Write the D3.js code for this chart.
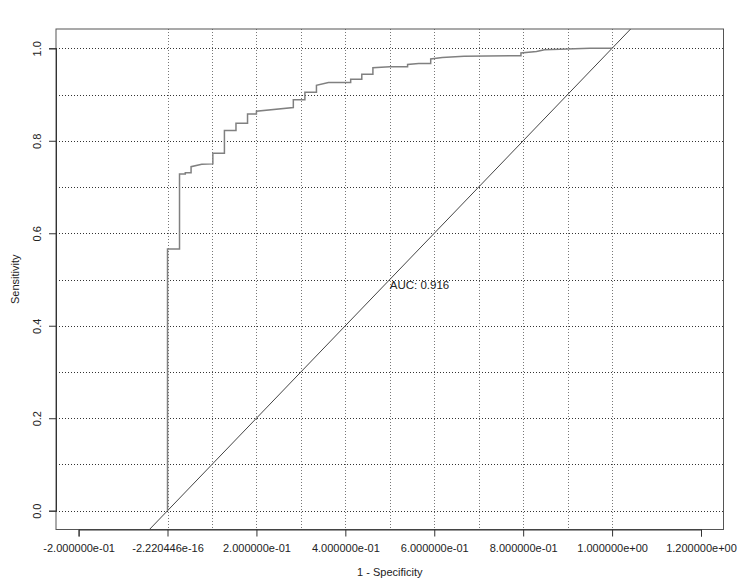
<!DOCTYPE html>
<html>
<head>
<meta charset="utf-8">
<script src="https://cdn.jsdelivr.net/npm/d3@7"></script>
<style>
  html, body { margin: 0; padding: 0; background: #fff; }
  text { font-family: "Liberation Sans", Arial, Helvetica, sans-serif; fill: #222; }
</style>
</head>
<body>
<svg id="chart" width="750" height="586"></svg>
<script>
// ---- data ----
const fpr = [0, 0, 0.027, 0.027, 0.040, 0.040, 0.053, 0.053, 0.077, 0.102, 0.102, 0.128, 0.128,
  0.154, 0.154, 0.180, 0.180, 0.200, 0.200, 0.283, 0.283, 0.309, 0.309, 0.335, 0.335, 0.362,
  0.412, 0.412, 0.437, 0.437, 0.462, 0.462, 0.500, 0.540, 0.540, 0.565, 0.592, 0.592, 0.618,
  0.667, 0.795, 0.795, 0.830, 0.848, 0.950, 1.0];
const sensitivity = [0, 0.566, 0.566, 0.728, 0.728, 0.731, 0.731, 0.744, 0.749, 0.750, 0.773, 0.773, 0.822,
  0.822, 0.838, 0.838, 0.858, 0.858, 0.864, 0.872, 0.889, 0.889, 0.905, 0.905, 0.920, 0.926,
  0.926, 0.933, 0.933, 0.944, 0.944, 0.958, 0.960, 0.960, 0.965, 0.967, 0.967, 0.977, 0.980,
  0.983, 0.984, 0.990, 0.993, 0.997, 1.0, 1.0];
const xTicks = [-0.2, 0, 0.2, 0.4, 0.6, 0.8, 1.0, 1.2];
const xTickLabels = ["-2.000000e-01", "-2.220446e-16", "2.000000e-01", "4.000000e-01",
  "6.000000e-01", "8.000000e-01", "1.000000e+00", "1.200000e+00"];
const yTicks = [0, 0.2, 0.4, 0.6, 0.8, 1.0];
const yTickLabels = ["0.0", "0.2", "0.4", "0.6", "0.8", "1.0"];
const gridValues = [0, 0.1, 0.2, 0.3, 0.4, 0.5, 0.6, 0.7, 0.8, 0.9, 1.0];
const aucLabel = "AUC: 0.916";
const aucPos = [0.5, 0.5];
const xTitle = "1 - Specificity";
const yTitle = "Sensitivity";

// ---- layout ----
const box = { left: 56, top: 29, right: 723.5, bottom: 529.5 };
const x = d3.scaleLinear().domain([-0.2, 1.2]).range([78.6, 701]);
const y = d3.scaleLinear().domain([0, 1]).range([510.7, 48.3]);

const svg = d3.select("#chart");

svg.append("defs").append("clipPath").attr("id", "plotclip")
  .append("rect")
  .attr("x", box.left).attr("y", box.top)
  .attr("width", box.right - box.left).attr("height", box.bottom - box.top);

// grid
const grid = svg.append("g");
grid.selectAll("line.h").data(gridValues).join("line")
  .attr("class", "h")
  .attr("x1", box.left).attr("x2", box.right)
  .attr("y1", d => Math.round(y(d)) + 0.5).attr("y2", d => Math.round(y(d)) + 0.5)
  .attr("stroke", "#333").attr("stroke-width", 1).attr("stroke-dasharray", "1,2");
grid.selectAll("line.v").data(gridValues).join("line")
  .attr("class", "v")
  .attr("x1", d => Math.round(x(d)) + 0.5).attr("x2", d => Math.round(x(d)) + 0.5)
  .attr("y1", box.top).attr("y2", box.bottom)
  .attr("stroke", "#777").attr("stroke-width", 1).attr("stroke-dasharray", "1,2");

// diagonal reference line (sensitivity = 1 - specificity)
const plot = svg.append("g").attr("clip-path", "url(#plotclip)");
plot.append("line")
  .attr("x1", x(-0.2)).attr("y1", y(-0.2))
  .attr("x2", x(1.2)).attr("y2", y(1.2))
  .attr("stroke", "#444").attr("stroke-width", 1);

// ROC curve
const rocData = fpr.map((f, i) => [f, sensitivity[i]]);
plot.append("path")
  .datum(rocData)
  .attr("fill", "none")
  .attr("stroke", "#808080")
  .attr("stroke-width", 1.5)
  .attr("d", d3.line().x(d => x(d[0])).y(d => y(d[1])));

// box
svg.append("rect")
  .attr("x", box.left).attr("y", box.top)
  .attr("width", box.right - box.left).attr("height", box.bottom - box.top)
  .attr("fill", "none").attr("stroke", "#555").attr("stroke-width", 1);

// x axis
const xAxis = d3.axisBottom(x).tickValues(xTicks)
  .tickFormat((d, i) => xTickLabels[i]).tickSize(7).tickPadding(8);
const gx = svg.append("g").attr("transform", `translate(0,${box.bottom})`).call(xAxis);
gx.select(".domain").attr("stroke", "#333");
gx.selectAll(".tick line").attr("stroke", "#333");
gx.selectAll(".tick text").attr("font-size", "11px").attr("fill", "#222")
  .attr("font-family", "Liberation Sans, Arial, sans-serif");

// y axis
const yAxis = d3.axisLeft(y).tickValues(yTicks)
  .tickFormat((d, i) => yTickLabels[i]).tickSize(7);
const gy = svg.append("g").attr("transform", `translate(${box.left},0)`).call(yAxis);
gy.select(".domain").attr("stroke", "#333");
gy.selectAll(".tick line").attr("stroke", "#333");
gy.selectAll(".tick text")
  .attr("font-size", "11px").attr("fill", "#222")
  .attr("font-family", "Liberation Sans, Arial, sans-serif")
  .attr("x", null).attr("dy", null)
  .attr("text-anchor", "middle")
  .attr("transform", "translate(-15,0) rotate(-90)");

// AUC annotation
svg.append("text")
  .attr("x", x(aucPos[0]))
  .attr("y", y(aucPos[1]) + 9)
  .attr("font-size", "11.5px")
  .text(aucLabel);

// titles
svg.append("text")
  .attr("x", (box.left + box.right) / 2).attr("y", 576)
  .attr("text-anchor", "middle").attr("font-size", "11px")
  .text(xTitle);
svg.append("text")
  .attr("transform", `translate(19,${(box.top + box.bottom) / 2}) rotate(-90)`)
  .attr("text-anchor", "middle").attr("font-size", "11px")
  .text(yTitle);
</script>
</body>
</html>
